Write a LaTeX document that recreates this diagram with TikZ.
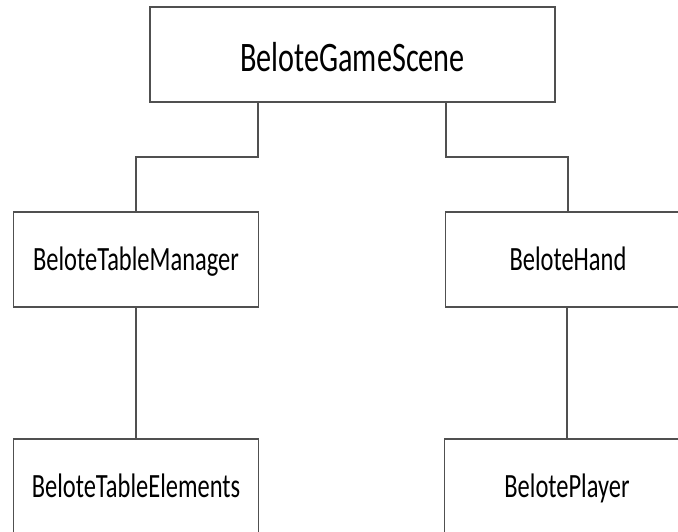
\documentclass[tikz,border=0pt]{standalone}
\usepackage{fontspec}
\newfontfamily\boxfont[FakeStretch=0.72]{Carlito}
\definecolor{edgegray}{HTML}{505050}
\begin{document}
\begin{tikzpicture}[x=1pt,y=-1pt,
  box/.style={draw=edgegray, line width=1.5pt, rectangle, inner sep=0pt,
    minimum width=245pt, minimum height=95pt, text depth=0pt, text height=22pt,
    font=\boxfont\fontsize{34}{40}\selectfont},
  wire/.style={draw=edgegray, line width=1.5pt}]
\clip (0,0) rectangle (678,531);
% root
\node[box, minimum width=405pt, text height=33pt,
  font=\boxfont\fontsize{42}{48}\selectfont] (scene) at (352.5,54.5) {BeloteGameScene};
% second level
\node[box] (manager) at (136,259.5) {BeloteTableManager};
\node[box] (hand) at (568,259.5) {BeloteHand};
% third level
\node[box] (elements) at (136,486.5) {BeloteTableElements};
\node[box] (player) at (567,486.5) {BelotePlayer};
% connectors
\draw[wire] ([xshift=-94.5pt]scene.south) -- ++(0,54) -| (manager.north);
\draw[wire] ([xshift=93.5pt]scene.south) -- ++(0,54) -| (hand.north);
\draw[wire] (manager.south) -- (elements.north);
\draw[wire] ([xshift=-1pt]hand.south) -- (player.north);
\end{tikzpicture}
\end{document}
